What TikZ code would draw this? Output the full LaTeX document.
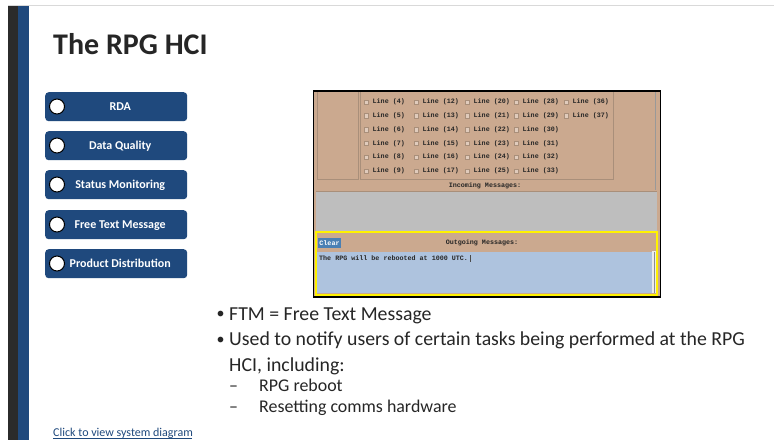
\documentclass[tikz,border=0pt]{standalone}
\usepackage{fontspec}
\setmainfont{Carlito}
\newfontfamily\scr{Liberation Mono}
\definecolor{navy}{HTML}{1F497D}
\definecolor{darkbar}{HTML}{2B2B2B}
\definecolor{tan}{HTML}{CBA98F}
\definecolor{tanline}{HTML}{A98F7A}
\definecolor{greyarea}{HTML}{BEBEBE}
\definecolor{bluearea}{HTML}{AEC3DE}
\definecolor{linkblue}{HTML}{1F497D}
\definecolor{clearblue}{HTML}{4A80B4}
\tikzset{
  navbtn/.style={draw=none,fill=navy,rounded corners=3.5pt,minimum width=142pt,minimum height=29pt,inner sep=0pt,text=white,text height=9pt,text depth=2pt,font=\fontsize{12}{13}\selectfont\bfseries,anchor=north west},
  navdot/.style={circle,draw=black,fill=white,line width=1pt,minimum size=15pt,inner sep=0pt},
  chk/.style={draw=tanline,fill=tan!60!white,line width=.4pt,minimum size=4.5pt,inner sep=0pt},
  scrtext/.style={font=\scr\bfseries\fontsize{6.7}{7}\selectfont,text=black!85,inner sep=0pt},
  body/.style={font=\fontsize{19.8}{22}\selectfont,text=black!85,anchor=base west,inner sep=0pt},
  subbody/.style={font=\fontsize{17.9}{20}\selectfont,text=black!85,anchor=base west,inner sep=0pt},
  bulletmark/.style={font=\fontsize{16}{18}\selectfont,text=black!85,anchor=base west,inner sep=0pt},
}
\newcommand{\lineitem}[4]{%
  \node[chk] (c#4) at (#1,#2) {};
  \node[scrtext,anchor=west] (l#4) at (#1+6.5,#2) {Line (#3)};
}
\newcommand{\btxt}[1]{\hspace*{8pt}#1}
\begin{document}
\begin{tikzpicture}[x=1pt,y=-1pt]
\useasboundingbox (0,0) rectangle (774,440);
\fill[white] (0,0) rectangle (774,440);
\draw[black!15,line width=.8pt] (8,5.5) -- (774,5.5);
\fill[darkbar] (8,6) rectangle (18,440);
\fill[navy] (18,6) rectangle (29,440);
\node[anchor=base west,inner sep=0pt,text=black!85,font=\fontsize{30}{32}\selectfont\bfseries] (title) at (53,54) {The RPG HCI};
% nav
\node[navbtn] (b1) at (45,92) {\btxt{RDA}};
\node[navbtn] (b2) at (45,131) {\btxt{Data Quality}};
\node[navbtn] (b3) at (45,170) {\btxt{Status Monitoring}};
\node[navbtn] (b4) at (45,210) {\btxt{Free Text Message}};
\node[navbtn] (b5) at (45,249) {\btxt{Product Distribution}};
\node[navdot] (d1) at (57,106.5) {};
\node[navdot] (d2) at (57,145.5) {};
\node[navdot] (d3) at (57,184.5) {};
\node[navdot] (d4) at (57,224.5) {};
\node[navdot] (d5) at (57,263.5) {};
% screenshot
\fill[tan] (313,91) rectangle (660,297);
\draw[tanline,line width=.7pt] (317,91) -- (317,179.5) -- (358,179.5) -- (358,91);
\draw[tanline,line width=.7pt] (360,91) -- (360,179.5) -- (613,179.5) -- (613,91);
\draw[black!40,line width=.7pt] (655.5,91) -- (655.5,190);
\node[scrtext] (inc) at (485,185.5) {Incoming Messages:};
\fill[greyarea] (316,191) rectangle (657,231);
\draw[tanline,line width=.8pt] (316,191) -- (657,191);
\fill[bluearea] (317,252) rectangle (652,293);
\fill[black!8] (652,251) rectangle (656,293);
\draw[black!45,line width=.3pt] (654,252) -- (654,293);
\node[fill=clearblue,text=white,font=\scr\bfseries\fontsize{6.7}{7}\selectfont,inner sep=0pt,minimum width=23pt,minimum height=10pt] (clr) at (329.5,243) {Clear};
\node[scrtext] (out) at (482,242.5) {Outgoing Messages:};
\node[scrtext,anchor=west] (msg) at (319,258) {The RPG will be rebooted at 1000 UTC.};
\draw[black!70,line width=.5pt] (470,255) -- (470,262);
\draw[yellow,line width=2pt] (315.5,232) rectangle (657,295);
\draw[black,line width=1.3pt] (313.5,91) rectangle (660.5,297);
% checkboxes
\foreach \n [count=\i] in {4,5,6,7,8,9}{\pgfmathsetmacro\yy{102+(\i-1)*13.8}\lineitem{366}{\yy}{\n}{a\i}}
\foreach \n [count=\i] in {12,13,14,15,16,17}{\pgfmathsetmacro\yy{102+(\i-1)*13.8}\lineitem{416}{\yy}{\n}{b\i}}
\foreach \n [count=\i] in {20,21,22,23,24,25}{\pgfmathsetmacro\yy{102+(\i-1)*13.8}\lineitem{467}{\yy}{\n}{e\i}}
\foreach \n [count=\i] in {28,29,30,31,32,33}{\pgfmathsetmacro\yy{102+(\i-1)*13.8}\lineitem{516}{\yy}{\n}{f\i}}
\foreach \n [count=\i] in {36,37}{\pgfmathsetmacro\yy{102+(\i-1)*13.8}\lineitem{566}{\yy}{\n}{g\i}}
% bullets
\node[bulletmark] (t1) at (216.5,318.8) {•};
\node[body] (t1b) at (229,320) {FTM = Free Text Message};
\node[bulletmark] (t2) at (216.5,344.3) {•};
\node[body] (t2b) at (229,345.5) {Used to notify users of certain tasks being performed at the RPG};
\node[body] (t3b) at (229,371) {HCI, including:};
\node[subbody] (t4) at (229,391) {–};
\node[subbody] (t4b) at (259,391) {RPG reboot};
\node[subbody] (t5) at (229,412.5) {–};
\node[subbody] (t5b) at (259,412.5) {Resetting comms hardware};
\node[anchor=base west,inner sep=0pt,text=linkblue,font=\fontsize{12}{13}\selectfont] (lnk) at (53,436) {Click to view system diagram};
\coordinate (ulstart) at (53,438);
\coordinate (ulend) at (192,438);
\draw[linkblue,line width=.7pt] (ulstart) -- (ulend);
\end{tikzpicture}
\end{document}
